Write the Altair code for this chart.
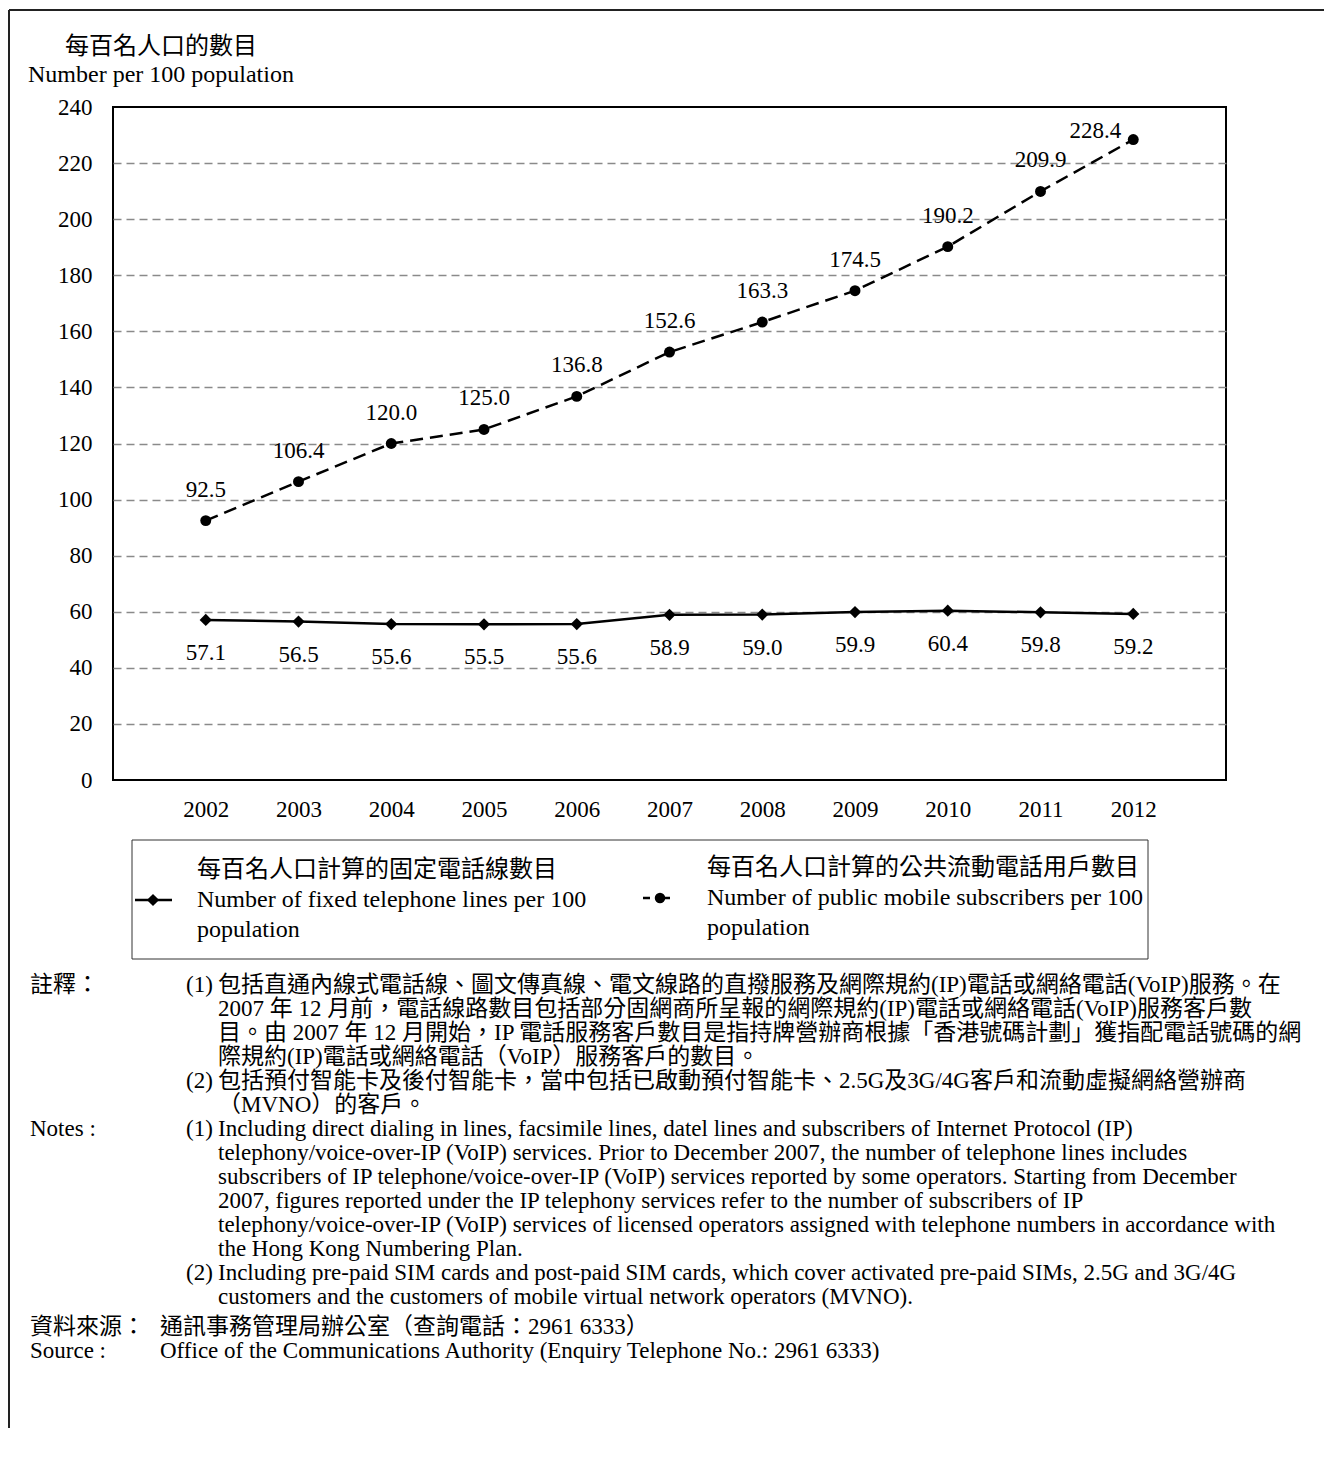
import altair as alt
import pandas as pd

# ---------------- data ----------------
years = [2002, 2003, 2004, 2005, 2006, 2007, 2008, 2009, 2010, 2011, 2012]
fixed_lines = [57.1, 56.5, 55.6, 55.5, 55.6, 58.9, 59.0, 59.9, 60.4, 59.8, 59.2]
mobile_subs = [92.5, 106.4, 120.0, 125.0, 136.8, 152.6, 163.3, 174.5, 190.2, 209.9, 228.4]
y_ticks = [0, 20, 40, 60, 80, 100, 120, 140, 160, 180, 200, 220, 240]

y_title_zh = "每百名人口的數目"
y_title_en = "Number per 100 population"
legend_fixed = ["每百名人口計算的固定電話線數目", "Number of fixed telephone lines per 100", "population"]
legend_mobile = ["每百名人口計算的公共流動電話用戶數目", "Number of public mobile subscribers per 100", "population"]

notes_zh_label = "註釋："
notes_zh_1 = [
    "包括直通內線式電話線、圖文傳真線、電文線路的直撥服務及網際規約(IP)電話或網絡電話(VoIP)服務。在",
    "2007 年 12 月前，電話線路數目包括部分固網商所呈報的網際規約(IP)電話或網絡電話(VoIP)服務客戶數",
    "目。由 2007 年 12 月開始，IP 電話服務客戶數目是指持牌營辦商根據「香港號碼計劃」獲指配電話號碼的網",
    "際規約(IP)電話或網絡電話（VoIP）服務客戶的數目。",
]
notes_zh_2 = [
    "包括預付智能卡及後付智能卡，當中包括已啟動預付智能卡、2.5G及3G/4G客戶和流動虛擬網絡營辦商",
    "（MVNO）的客戶。",
]
notes_en_label = "Notes :"
notes_en_1 = [
    "Including direct dialing in lines, facsimile lines, datel lines and subscribers of Internet Protocol (IP)",
    "telephony/voice-over-IP (VoIP) services.  Prior to December 2007, the number of telephone lines includes",
    "subscribers of IP telephone/voice-over-IP (VoIP) services reported by some operators.  Starting from December",
    "2007, figures reported under the IP telephony services refer to the number of subscribers of IP",
    "telephony/voice-over-IP (VoIP) services of licensed operators assigned with telephone numbers in accordance with",
    "the Hong Kong Numbering Plan.",
]
notes_en_2 = [
    "Including pre-paid SIM cards and post-paid SIM cards, which cover activated pre-paid SIMs, 2.5G and 3G/4G",
    "customers and the customers of mobile virtual network operators (MVNO).",
]
source_zh_label = "資料來源："
source_zh = "通訊事務管理局辦公室（查詢電話：2961 6333）"
source_en_label = "Source :"
source_en = "Office of the Communications Authority (Enquiry Telephone No.: 2961 6333)"

# ---------------- layout constants ----------------
W, H = 1113, 673
PAD = {"left": 105, "top": 99, "right": 98, "bottom": 648}
FONT = "Liberation Serif, 'Noto Sans CJK TC'"
FS = 23
FS_T = 24
FS_N = 23

df = pd.DataFrame({
    "year": years * 2,
    "series": ["fixed"] * len(years) + ["mobile"] * len(years),
    "value": fixed_lines + mobile_subs,
})

x_enc = alt.X("year:O", scale=alt.Scale(type="point", padding=1),
              axis=alt.Axis(title=None, labelAngle=0, ticks=False, domain=False,
                            labelFont=FONT, labelFontSize=FS, labelColor="black",
                            labelPadding=18, labelBaseline="top"))
y_enc = alt.Y("value:Q", scale=alt.Scale(domain=[0, 240], nice=False, zero=True),
              axis=alt.Axis(title=None, values=y_ticks, ticks=False, domain=False,
                            labelFont=FONT, labelFontSize=FS, labelColor="black",
                            labelPadding=21, grid=True, gridColor="#8a8a8a",
                            gridDash=[8, 5], gridWidth=1.5,
                            gridOpacity={"condition": {"test": "datum.value === 0 || datum.value === 240", "value": 0}, "value": 1}))

base = alt.Chart(df).encode(x=x_enc, y=y_enc)
fixed_df = base.transform_filter("datum.series === 'fixed'")
mobile_df = base.transform_filter("datum.series === 'mobile'")

fixed_line = fixed_df.mark_line(color="black", strokeWidth=2.5)
fixed_pts = fixed_df.mark_point(shape="diamond", filled=True, color="black", size=150, opacity=1)
mobile_line = mobile_df.mark_line(color="black", strokeWidth=2.5, strokeDash=[13, 7])
mobile_pts = mobile_df.mark_circle(color="black", size=120, opacity=1)

fixed_lbl = fixed_df.mark_text(font=FONT, fontSize=FS, color="black", dy=40, baseline="alphabetic").encode(
    text=alt.Text("value:Q", format=".1f"))
mobile_lbl = mobile_df.transform_filter("datum.year < 2012").mark_text(
    font=FONT, fontSize=FS, color="black", dy=-24, baseline="alphabetic").encode(
    text=alt.Text("value:Q", format=".1f"))
mobile_lbl_last = mobile_df.transform_filter("datum.year == 2012").mark_text(
    font=FONT, fontSize=FS, color="black", dx=-38, dy=-2, baseline="alphabetic").encode(
    text=alt.Text("value:Q", format=".1f"))

one = pd.DataFrame({"k": [0]})


def txt(s, x, y, size=FS_N, align="left"):
    return alt.Chart(one).mark_text(text=s, font=FONT, fontSize=size, color="black",
                                    align=align, baseline="middle").encode(
        x=alt.value(x), y=alt.value(y))


def hrule(x1, x2, y, width=1.0, color="black", dash=None):
    kw = dict(color=color, strokeWidth=width)
    if dash:
        kw["strokeDash"] = dash
    return alt.Chart(one).mark_rule(**kw).encode(x=alt.value(x1), x2=alt.value(x2), y=alt.value(y))


def vrule(x, y1, y2, width=1.0, color="black"):
    return alt.Chart(one).mark_rule(color=color, strokeWidth=width).encode(
        x=alt.value(x), y=alt.value(y1), y2=alt.value(y2))


deco = []
# outer frame
deco.append(hrule(-104, W + PAD["right"], -97, width=2, color="#222"))
deco.append(vrule(-104, -97, H + PAD["bottom"], width=2, color="#222"))
# y-axis title
deco.append(txt(y_title_zh, -48, -60, size=FS_T))
deco.append(txt(y_title_en, -85, -32, size=FS_T))
# legend box
deco.append(alt.Chart(one).mark_rect(fill="white", fillOpacity=0, stroke="#333", strokeWidth=1).encode(
    x=alt.value(19), x2=alt.value(1035), y=alt.value(733), y2=alt.value(852)))
deco.append(hrule(22, 59, 793, width=2.5))
deco.append(alt.Chart(one).mark_point(shape="diamond", filled=True, color="black", size=150, opacity=1).encode(
    x=alt.value(40), y=alt.value(793)))
for i, s in enumerate(legend_fixed):
    deco.append(txt(s, 84, 763 + 30 * i, size=FS_T))
deco.append(hrule(530, 564, 791, width=2.5, dash=[7, 13]))
deco.append(alt.Chart(one).mark_circle(color="black", size=110, opacity=1).encode(
    x=alt.value(547), y=alt.value(791)))
for i, s in enumerate(legend_mobile):
    deco.append(txt(s, 594, 761 + 30 * i, size=FS_T))

# notes
LH = 24
y0 = 878
deco.append(txt(notes_zh_label, -83, y0))
deco.append(txt("(1)", 73, y0))
yy = y0
for s in notes_zh_1:
    deco.append(txt(s, 105, yy))
    yy += LH
deco.append(txt("(2)", 73, yy))
for s in notes_zh_2:
    deco.append(txt(s, 105, yy))
    yy += LH
deco.append(txt(notes_en_label, -83, yy))
deco.append(txt("(1)", 73, yy))
for s in notes_en_1:
    deco.append(txt(s, 105, yy))
    yy += LH
deco.append(txt("(2)", 73, yy))
for s in notes_en_2:
    deco.append(txt(s, 105, yy))
    yy += LH
yy += 6
deco.append(txt(source_zh_label, -83, yy))
deco.append(txt(source_zh, 47, yy))
yy += LH
deco.append(txt(source_en_label, -83, yy))
deco.append(txt(source_en, 47, yy))

chart = alt.layer(
    fixed_line, fixed_pts, mobile_line, mobile_pts,
    fixed_lbl, mobile_lbl, mobile_lbl_last,
    *deco,
).properties(
    width=W, height=H,
    padding=PAD,
    autosize=alt.AutoSizeParams(type="none"),
    background="white",
).configure_view(stroke="black", strokeWidth=2)

chart.save("out.html", embed_options={"renderer": "svg", "actions": False})
